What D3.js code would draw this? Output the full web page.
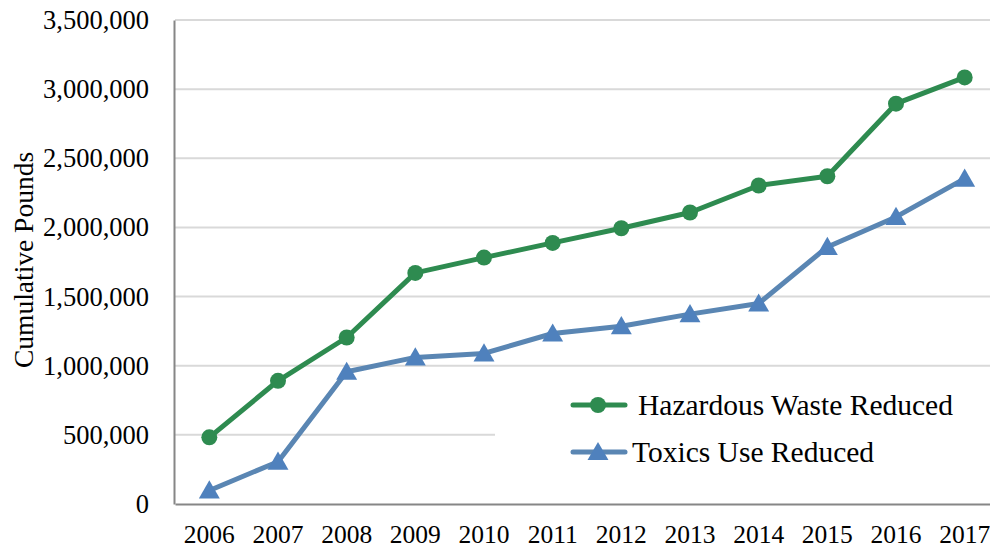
<!DOCTYPE html>
<html>
<head>
<meta charset="utf-8" />
<title>Cumulative Pounds</title>
<script src="https://cdn.jsdelivr.net/npm/d3@7"></script>
<style type="text/css">
body { margin: 0; background: #fff; }
svg text { font-family: "Liberation Serif", "Times New Roman", serif; font-size: 25.5px; fill: #000; }
svg .yaxis text { font-size: 26.5px; }
svg text.big { font-size: 29.5px; }
svg text.title { font-size: 27.5px; }
</style>
</head>
<body>
<svg width="990" height="550"></svg>
<script type="text/javascript">

var years     = ["2006","2007","2008","2009","2010","2011","2012","2013","2014","2015","2016","2017"];
var hazardous = [482000, 891000, 1204000, 1671000, 1782000, 1888000, 1994000, 2108000, 2303000, 2370000, 2895000, 3085000];
var toxics    = [98000, 306000, 956000, 1060000, 1089000, 1233000, 1286000, 1373000, 1450000, 1859000, 2076000, 2353000];
var yTicks    = [0, 500000, 1000000, 1500000, 2000000, 2500000, 3000000, 3500000];
var seriesNames = ["Hazardous Waste Reduced", "Toxics Use Reduced"];

var m = {left:175 ,right:999 ,top:20 ,bottom:504};
var svg = d3.select("svg");

var x = d3.scaleBand().domain(years).range([m.left, m.right]);
var y = d3.scaleLinear().domain([0, 3500000]).range([m.bottom, m.top]);

// gridlines
svg.append("g")
.selectAll("line")
.data(yTicks.slice(1))
.enter().append("line")
.attr("x1", m.left)
.attr("x2", m.right)
.attr("y1", function(d) { return y(d); })
.attr("y2", function(d) { return y(d); })
.attr("stroke", "#d9d9d9")
.attr("stroke-width", 2);

// legend box covers the grid
svg.append("rect")
.attr("x", 495).attr("y", 370)
.attr("width", 500).attr("height", 130)
.attr("fill", "#fff");

// axes
var yAxis = svg.append("g")
.attr("class", "yaxis")
.attr("transform", "translate(" + (m.left - 1) + ",0)")
.call(d3.axisLeft(y).tickValues(yTicks).tickSize(0).tickPadding(25).tickFormat(d3.format(",")));
yAxis.attr("font-family", null).attr("font-size", null);
yAxis.select(".domain").attr("stroke", "#868686").attr("stroke-width", 2);
yAxis.selectAll("text").attr("dy", "0.32em");

var xAxis = svg.append("g")
.attr("transform", "translate(0," + m.bottom + ")")
.call(d3.axisBottom(x).tickSize(0).tickPadding(21));
xAxis.attr("font-family", null).attr("font-size", null);
xAxis.select(".domain").attr("stroke", "#868686").attr("stroke-width", 2);

svg.append("text")
.attr("class", "title")
.attr("transform", "translate(33,260) rotate(-90)")
.attr("text-anchor", "middle")
.text("Cumulative Pounds");

var cx = function(d, i) { return x(years[i]) + x.bandwidth() / 2; };
var line = d3.line().x(cx).y(function(d) { return y(d); });

var green = "#2e8b50", blueLine = "#5a86b3", blueMark = "#4f81bd";

svg.append("path").datum(hazardous)
.attr("d", line).attr("fill", "none")
.attr("stroke", green).attr("stroke-width", 5).attr("stroke-linejoin", "round");

svg.append("g").selectAll("circle").data(hazardous).enter().append("circle")
.attr("cx", cx).attr("cy", function(d) { return y(d); })
.attr("r", 8).attr("fill", green);

svg.append("path").datum(toxics)
.attr("d", line).attr("fill", "none")
.attr("stroke", blueLine).attr("stroke-width", 5).attr("stroke-linejoin", "round");

var tri = d3.symbol().type(d3.symbolTriangle).size(190);
svg.append("g").selectAll("path").data(toxics).enter().append("path")
.attr("d", tri)
.attr("transform", function(d, i) { return "translate(" + cx(d, i) + "," + (y(d) + 2) + ")"; })
.attr("fill", blueMark);

// legend
var lg = svg.append("g");
[[405, green, green, "circle"], [452, blueLine, blueMark, "tri"]].forEach(function(e, i)
{
	lg.append("line")
	.attr("x1", 573).attr("x2", 625)
	.attr("y1", e[0]).attr("y2", e[0])
	.attr("stroke", e[1]).attr("stroke-width", 5).attr("stroke-linecap", "round");
	if ( e[3] == "circle" )
	{
		lg.append("circle").attr("cx", 598).attr("cy", e[0]).attr("r", 8).attr("fill", e[2]);
	}
	else
	{
		lg.append("path").attr("d", tri).attr("transform", "translate(598," + (e[0] + 2) + ")").attr("fill", e[2]);
	}
	lg.append("text")
	.attr("class", "big")
	.attr("x", i == 0 ? 638 : 632)
	.attr("y", e[0])
	.attr("dy", "0.35em")
	.text(seriesNames[i]);
});

</script>
</body>
</html>
